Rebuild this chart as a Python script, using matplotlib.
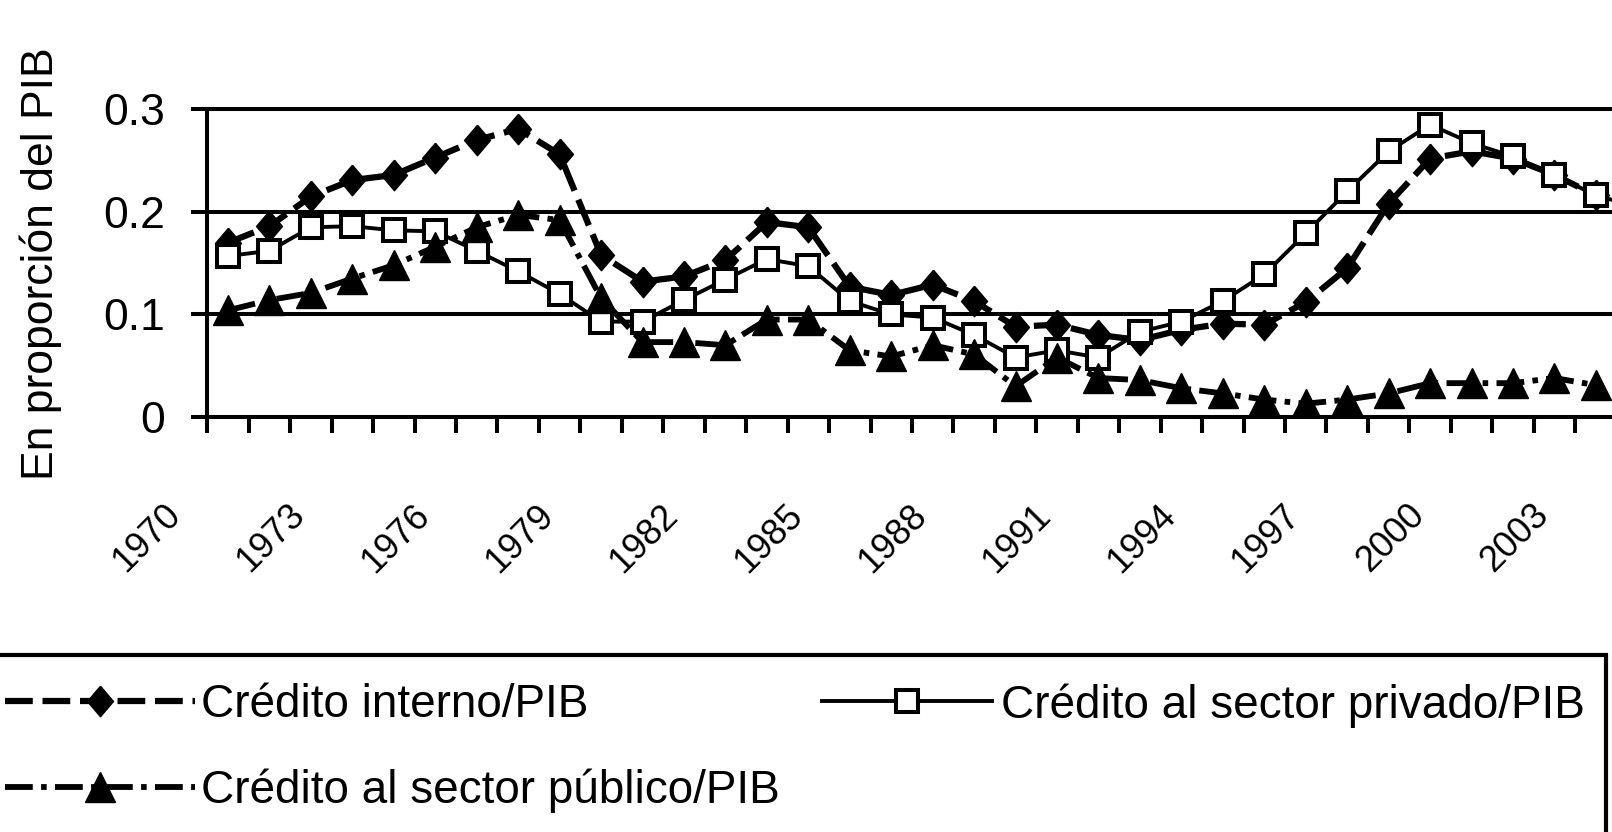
import matplotlib
matplotlib.use("Agg")
import matplotlib.pyplot as plt
from matplotlib.patches import Rectangle
from matplotlib.transforms import ScaledTranslation
import numpy as np

plt.rcParams['font.family'] = ['Liberation Sans', 'DejaVu Sans']
plt.rcParams['lines.scale_dashes'] = False

# ---------------- data ----------------
years = list(range(1970, 2005))

credito_interno = [0.170, 0.186, 0.215, 0.231, 0.236, 0.253, 0.270, 0.281, 0.256, 0.158,
                   0.132, 0.137, 0.153, 0.190, 0.185, 0.127, 0.119, 0.129, 0.113, 0.088,
                   0.090, 0.080, 0.075, 0.085, 0.091, 0.090, 0.112, 0.145, 0.208, 0.252,
                   0.259, 0.252, 0.236, 0.216]

credito_privado = [0.157, 0.162, 0.185, 0.186, 0.182, 0.181, 0.162, 0.142, 0.120, 0.093,
                   0.093, 0.114, 0.134, 0.154, 0.147, 0.113, 0.100, 0.097, 0.080, 0.058,
                   0.065, 0.058, 0.083, 0.093, 0.113, 0.139, 0.179, 0.220, 0.259, 0.285,
                   0.267, 0.254, 0.236, 0.216, 0.205]

credito_publico = [0.104, 0.114, 0.121, 0.135, 0.148, 0.166, 0.185, 0.197, 0.192, 0.116,
                   0.073, 0.073, 0.070, 0.095, 0.095, 0.065, 0.059, 0.070, 0.061, 0.030,
                   0.058, 0.038, 0.036, 0.028, 0.023, 0.017, 0.013, 0.017, 0.023, 0.033,
                   0.033, 0.033, 0.038, 0.031]

xtick_years = [1970, 1973, 1976, 1979, 1982, 1985, 1988, 1991, 1994, 1997, 2000, 2003]
xtick_labels = [str(y) for y in xtick_years]
ytick_values = [0, 0.1, 0.2, 0.3]
ytick_labels = ["0", "0.1", "0.2", "0.3"]

label_interno = "Crédito interno/PIB"
label_privado = "Crédito al sector privado/PIB"
label_publico = "Crédito al sector público/PIB"
ylabel_text = "En proporción del PIB"

# ---------------- figure ----------------
W, H = 1612, 832
fig = plt.figure(figsize=(W / 100, H / 100), dpi=100)
fig.patch.set_facecolor('white')

px_year = 41.45
left_px = 207.3
bottom_px = H - 417
height_px = 307.7
n_cat = len(years)
ax = fig.add_axes([left_px / W, bottom_px / H, n_cat * px_year / W, height_px / H])

diamond = [(0, 1), (0.85, 0), (0, -1), (-0.85, 0), (0, 1)]

l_int, = ax.plot(years[:len(credito_interno)], credito_interno, color='black', lw=4.5,
                 dashes=(20, 7), marker=diamond, ms=22, mfc='black', mec='black', mew=1,
                 zorder=3, label=label_interno)
l_priv, = ax.plot(years[:len(credito_privado)], credito_privado, color='black', lw=2.8,
                  marker='s', ms=15.5, mfc='white', mec='black', mew=2.9,
                  zorder=4, label=label_privado)
l_pub, = ax.plot(years[:len(credito_publico)], credito_publico, color='black', lw=4.2,
                 dashes=(20, 6, 4, 6), marker='^', ms=21, mfc='black', mec='black', mew=1,
                 zorder=5, label=label_publico)

# spines
for side in ['left', 'bottom', 'top']:
    ax.spines[side].set_linewidth(2.9)
    ax.spines[side].set_color('black')
ax.spines['right'].set_visible(False)

# y axis
ax.set_yticks(ytick_values, labels=ytick_labels)
ax.tick_params(axis='y', direction='out', length=11.5, width=2.9, pad=19, labelsize=32)
ax.yaxis.grid(True, color='black', lw=2.9)
ax.set_axisbelow(True)

# x axis: tick marks at category boundaries, labels rotated
boundaries = [y - 0.5 for y in years] + [years[-1] + 0.5]
ax.set_xticks(boundaries, labels=[''] * len(boundaries))
ax.tick_params(axis='x', which='major', direction='out', length=11.5, width=2.9)
ax.set_xticks(xtick_years, labels=xtick_labels, minor=True)
ax.tick_params(axis='x', which='minor', length=0, pad=58, labelsize=26, labelrotation=45)

# limits
ax.set_xlim(years[0] - 0.5, years[-1] + 0.5)
ax.set_ylim(0, 0.3)

# rotated labels are anchored at their upper-right end, left of the category
label_offset = ScaledTranslation(-65 / 100, 0, fig.dpi_scale_trans)
for lbl in ax.get_xticklabels(minor=True):
    lbl.set_ha('right')
    lbl.set_va('top')
    lbl.set_rotation_mode('anchor')
    lbl.set_transform(lbl.get_transform() + label_offset)

# y label
ax.set_ylabel(ylabel_text, fontsize=32, va='center')
ax.yaxis.set_label_coords((41 - left_px) / (n_cat * px_year), 0.5)

# legend (two columns placed separately)
leg_fs = 33
leg1 = fig.legend(handles=[l_int, l_pub], loc='upper left',
                  bbox_to_anchor=(5 / W, (H - 683) / H), frameon=False,
                  fontsize=leg_fs, borderpad=0, borderaxespad=0, handlelength=4.15,
                  handletextpad=0.12, labelspacing=0.9)
leg2 = fig.legend(handles=[l_priv], loc='upper left',
                  bbox_to_anchor=(822 / W, (H - 683) / H), frameon=False,
                  fontsize=leg_fs, borderpad=0, borderaxespad=0, handlelength=3.7,
                  handletextpad=0.2)
fig.add_artist(Rectangle((-0.01, -0.2), 1606 / W + 0.01, (H - 655) / H + 0.2,
                         transform=fig.transFigure, fill=False, lw=3, ec='black'))

fig.savefig('out.png', dpi=100)
